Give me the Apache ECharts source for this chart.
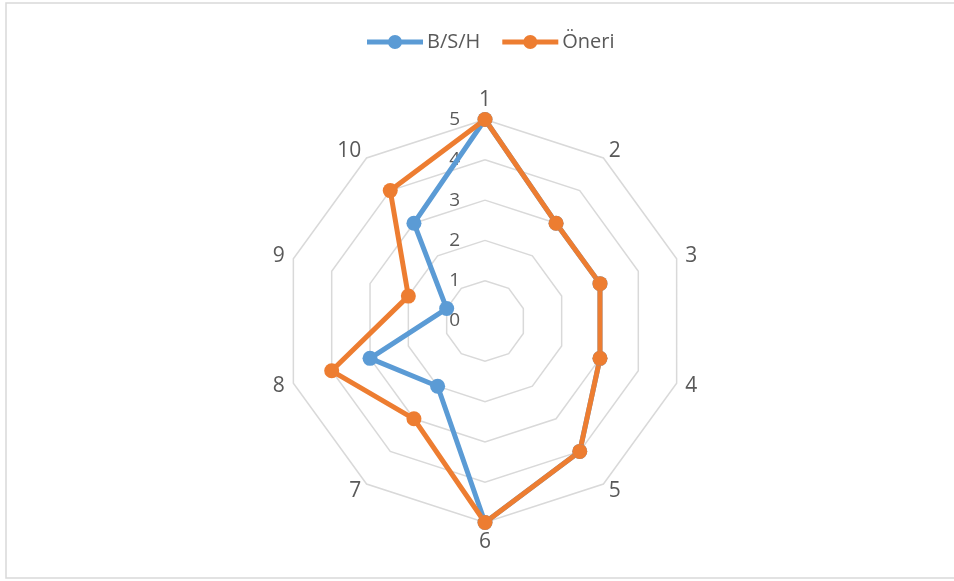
<!DOCTYPE html>
<html>
<head>
<meta charset="utf-8">
<script src="https://cdn.jsdelivr.net/npm/echarts@6/dist/echarts.min.js"></script>
<style>
  html, body { margin: 0; padding: 0; background: #ffffff; }
  #chart { width: 954px; height: 581px; }
</style>
</head>
<body>
<div id="chart"></div>
<script>
// Axis names, clockwise from the top
const categories = ['1', '2', '3', '4', '5', '6', '7', '8', '9', '10'];
const seriesNames = ['B/S/H', 'Öneri'];
const bshValues = [5, 3, 3, 3, 4, 5, 2, 3, 1, 3];
const oneriValues = [5, 3, 3, 3, 4, 5, 3, 4, 2, 4];
const scaleTicks = [0, 1, 2, 3, 4, 5];

const textColor = '#595959';
const fontFamily = '"Open Sans", "Noto Sans", sans-serif';
const cx = 485, cy = 321, R = 201.5;

// Legend key: a short thick line with a round marker in its middle
const lineMarkerIcon = 'path://M0,4.5H56V9.5H0Z M21,7A7,7 0 1 1 35,7A7,7 0 1 1 21,7Z';

// ECharts lays radar indicators counter-clockwise; reorder so they run clockwise.
const order = [0].concat(categories.slice(1).map((_, i) => categories.length - 1 - i));
const reorder = arr => order.map(i => arr[i]);

const chart = echarts.init(document.getElementById('chart'), null, { renderer: 'canvas' });

chart.setOption({
  backgroundColor: '#ffffff',
  animation: false,
  textStyle: { fontFamily: fontFamily },
  legend: {
    top: 27,
    left: 362,
    itemWidth: 56,
    itemHeight: 14,
    itemGap: 22,
    textStyle: { color: textColor, fontSize: 20, fontFamily: fontFamily, padding: [0, 0, 0, -1] },
    data: seriesNames.map(name => ({ name: name, icon: lineMarkerIcon }))
  },
  graphic: [{
    type: 'rect',
    shape: { x: 6, y: 3, width: 960, height: 575 },
    style: { fill: 'none', stroke: '#D9D9D9', lineWidth: 1.5 },
    silent: true
  }],
  // Value scale printed along the first spoke
  grid: { left: cx - 21, top: cy - R, width: 1, height: R },
  xAxis: { type: 'value', show: false },
  yAxis: {
    type: 'value',
    min: scaleTicks[0],
    max: scaleTicks[scaleTicks.length - 1],
    interval: 1,
    axisLine: { show: false },
    axisTick: { show: false },
    splitLine: { show: false },
    axisLabel: { color: textColor, fontSize: 19, margin: 4, fontFamily: fontFamily }
  },
  radar: {
    center: [cx, cy],
    radius: R,
    startAngle: 90,
    shape: 'polygon',
    splitNumber: 5,
    nameGap: 9,
    axisName: { color: textColor, fontSize: 21, fontFamily: fontFamily },
    axisLine: { show: false },
    axisTick: { show: false },
    axisLabel: { show: false },
    splitArea: { show: false },
    splitLine: { lineStyle: { color: '#D9D9D9', width: 1.5 } },
    indicator: reorder(categories).map(name => ({ name: name, min: 0, max: 5 }))
  },
  series: [{
    type: 'radar',
    symbol: 'circle',
    symbolSize: 15,
    data: [
      {
        name: seriesNames[0],
        value: reorder(bshValues),
        itemStyle: { color: '#5B9BD5' },
        lineStyle: { color: '#5B9BD5', width: 5 }
      },
      {
        name: seriesNames[1],
        value: reorder(oneriValues),
        itemStyle: { color: '#ED7D31' },
        lineStyle: { color: '#ED7D31', width: 5 }
      }
    ]
  }]
});
</script>
</body>
</html>
